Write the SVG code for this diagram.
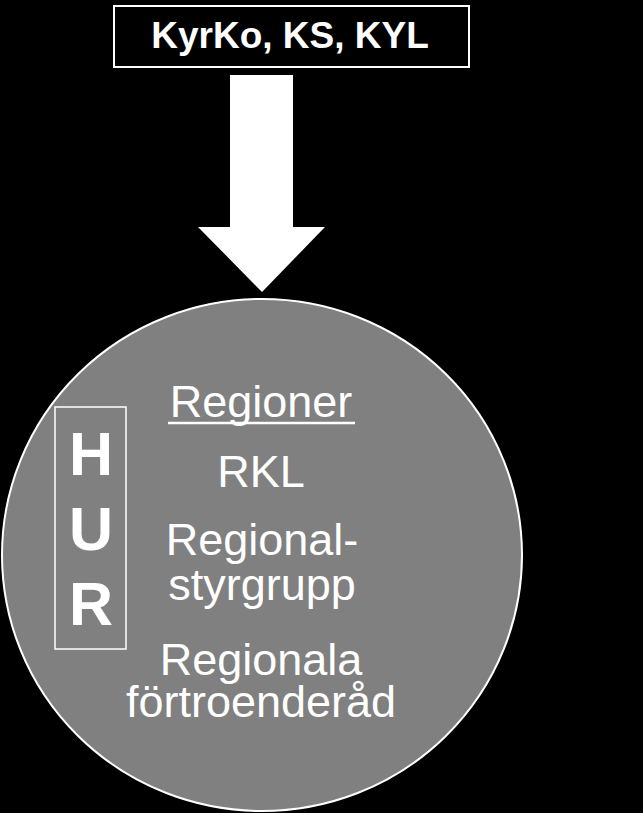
<svg xmlns="http://www.w3.org/2000/svg" width="643" height="813" viewBox="0 0 643 813">
<style>
.t{font-family:"Liberation Sans",Arial,sans-serif;fill:#fff;text-anchor:middle}
.b{font-weight:bold}
</style>
<rect x="0" y="0" width="643" height="813" fill="#000"/>
<g id="top">
<rect x="114" y="6" width="355" height="61" fill="#000" stroke="#fff" stroke-width="2"/>
<text class="t b" x="290" y="48" font-size="37">KyrKo, KS, KYL</text>
</g>
<g id="connectors">
<polygon points="230,75 293,75 293,227 325,227 262,292 198,227 230,227" fill="#fff"/>
</g>
<g id="circle">
<ellipse cx="262" cy="555" rx="260" ry="256" fill="#808080" stroke="#fff" stroke-width="2"/>
<text class="t" x="261" y="417" font-size="45">Regioner</text>
<line x1="168" y1="423" x2="355" y2="423" stroke="#fff" stroke-width="2.5"/>
<text class="t" x="261" y="487" font-size="45">RKL</text>
<text class="t" x="262" y="555" font-size="45">Regional-</text>
<text class="t" x="262" y="600" font-size="45">styrgrupp</text>
<text class="t" x="261" y="675" font-size="45">Regionala</text>
<text class="t" x="261" y="717" font-size="45">förtroenderåd</text>
</g>
<g id="hur">
<rect x="55" y="407" width="71" height="242" fill="none" stroke="#fff" stroke-width="1.5"/>
<text class="t b" x="91" y="475" font-size="61">H</text>
<text class="t b" x="91" y="550" font-size="61">U</text>
<text class="t b" x="91" y="625" font-size="61">R</text>
</g>
</svg>
